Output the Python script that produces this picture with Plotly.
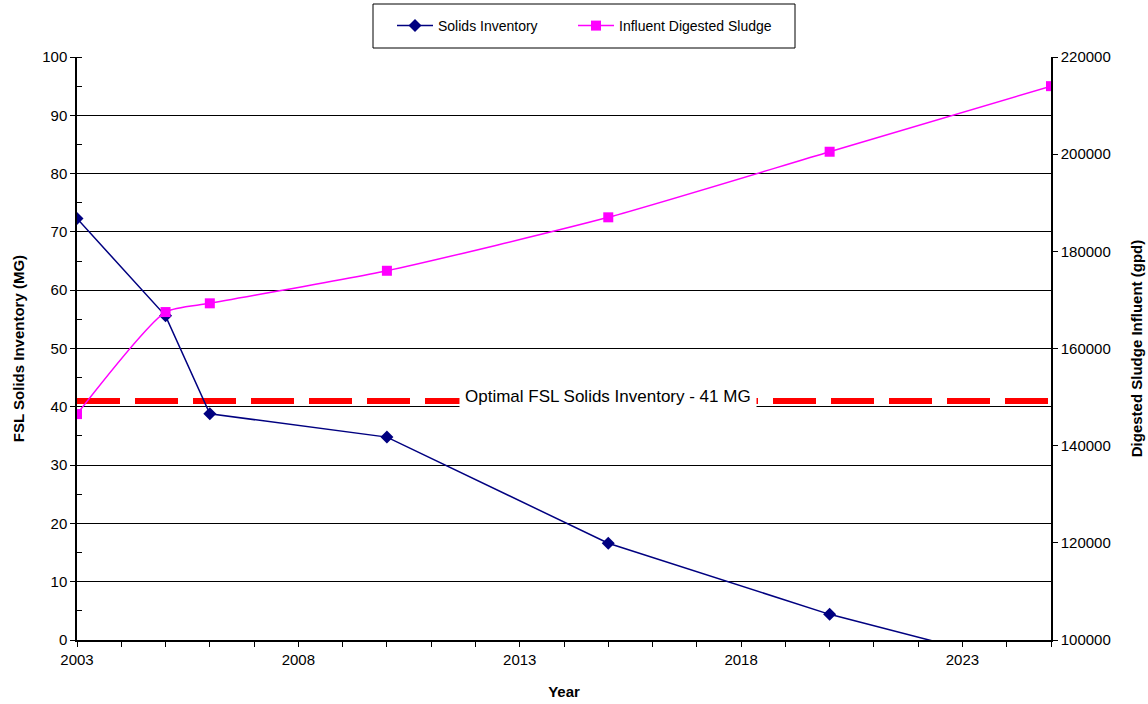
import plotly.graph_objects as go

solids_years = [2003, 2005, 2006, 2010, 2015, 2020, 2025]
solids_mg = [72.3, 55.6, 38.8, 34.8, 16.6, 4.4, -5.4]

sludge_years = [2003, 2005, 2006, 2010, 2015, 2020, 2025]
sludge_gpd = [146500, 167500, 169300, 176000, 187000, 200500, 214000]

optimal_years = [2003, 2025]
optimal_mg = [41, 41]

FONT = "Liberation Sans, Arial, sans-serif"

# plot area in pixels: x 77..1051, y 57..640
W, H = 1148, 704
PL, PR, PT, PB = 77, 1051, 57, 640
def px_x(p):
    return (p - PL) / (PR - PL)
def px_y(p):
    return (PB - p) / (PB - PT)

fig = go.Figure()

fig.add_trace(go.Scatter(
    x=optimal_years, y=optimal_mg, mode="lines",
    line=dict(color="#FF0000", width=6, dash="43px,15px"),
    showlegend=False, hoverinfo="skip"))

fig.add_trace(go.Scatter(
    x=solids_years, y=solids_mg, mode="lines+markers", name="Solids Inventory",
    line=dict(color="#000080", width=1.5), legendwidth=130,
    marker=dict(symbol="diamond", size=10, color="#000080")))

fig.add_trace(go.Scatter(
    x=sludge_years, y=sludge_gpd, mode="lines+markers", name="Influent Digested Sludge",
    yaxis="y2", legendwidth=200,
    line=dict(color="#FF00FF", width=1.5, shape="spline", smoothing=0.6),
    marker=dict(symbol="square", size=10, color="#FF00FF")))

fig.add_annotation(
    x=2015, y=41, xref="x", yref="y", text="Optimal FSL Solids Inventory - 41 MG",
    showarrow=False, bgcolor="white", font=dict(family=FONT, size=17, color="black"),
    borderpad=5, yshift=4)

# legend frame
fig.add_shape(type="rect", xref="paper", yref="paper",
              x0=px_x(373), x1=px_x(795), y0=px_y(48), y1=px_y(4),
              line=dict(color="black", width=1), fillcolor="white", layer="below")

fig.update_layout(
    width=W, height=H,
    margin=dict(l=PL, r=W - PR, t=PT, b=H - PB, autoexpand=False),
    paper_bgcolor="white", plot_bgcolor="white",
    font=dict(family=FONT, size=15, color="black"),
    xaxis=dict(
        range=[2003, 2025], tick0=2003, dtick=5, ticks="outside", ticklen=5,
        tickcolor="black", showgrid=False, zeroline=False, automargin=False,
        showline=True, linecolor="black", linewidth=1.5,
        minor=dict(dtick=1, ticks="outside", ticklen=5, tickcolor="black"),
        title=dict(text="<b>Year</b>", font=dict(size=15), standoff=20),
        tickfont=dict(size=15)),
    yaxis=dict(
        range=[0, 100], dtick=10, ticks="outside", ticklen=5, tickcolor="black",
        showgrid=True, gridcolor="black", gridwidth=1, zeroline=False, automargin=False,
        showline=True, linecolor="black", linewidth=1.5,
        minor=dict(dtick=5, ticks="inside", ticklen=5, tickcolor="black", showgrid=False),
        title=dict(text="<b>FSL Solids Inventory (MG)</b>", font=dict(size=15), standoff=14),
        tickfont=dict(size=15)),
    yaxis2=dict(
        range=[100000, 220000], dtick=20000, overlaying="y", side="right",
        tickformat="d", automargin=False,
        ticks="outside", ticklen=5, tickcolor="black", showgrid=False, zeroline=False,
        showline=True, linecolor="black", linewidth=1.5,
        title=dict(text="<b>Digested Sludge Influent (gpd)</b>", font=dict(size=15), standoff=22),
        tickfont=dict(size=15)),
    legend=dict(
        orientation="h", x=px_x(392), xanchor="left", y=px_y(26), yanchor="middle",
        yref="paper", borderwidth=0, bgcolor="rgba(0,0,0,0)",
        font=dict(size=14), itemwidth=36),
)

fig.write_html("out.html")
